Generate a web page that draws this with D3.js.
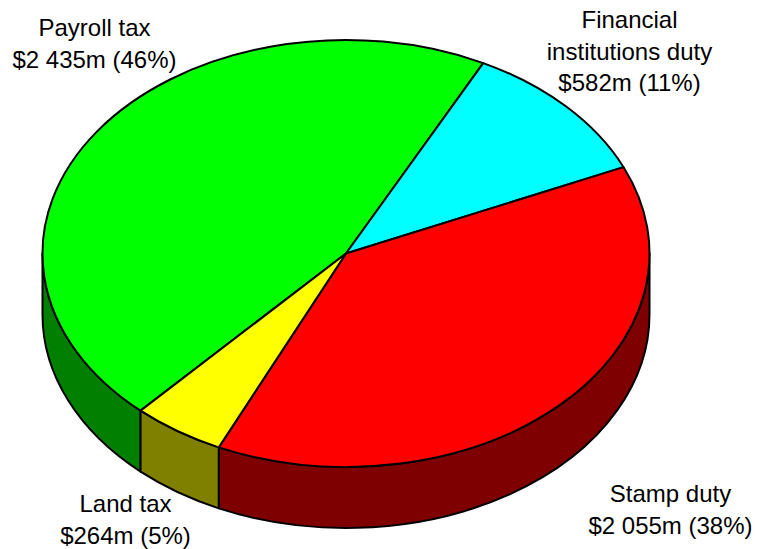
<!DOCTYPE html>
<html>
<head>
<meta charset="utf-8">
<script src="https://cdn.jsdelivr.net/npm/d3@7/dist/d3.min.js"></script>
<style>
  html, body { margin: 0; padding: 0; background: #fff; }
  svg { display: block; }
  text { font-family: "Liberation Sans", Arial, sans-serif; font-size: 24px; fill: #000; }
</style>
</head>
<body>
<svg id="chart" width="757" height="549"></svg>
<script>
// Tax revenue by source ($m)
const categories = ["Payroll tax", "Financial institutions duty", "Stamp duty", "Land tax"];
const values = [2435, 582, 2055, 264];
const valueLabels = ["$2 435m", "$582m", "$2 055m", "$264m"];
const percentLabels = ["46%", "11%", "38%", "5%"];
const labelLines = [["Payroll tax"], ["Financial", "institutions duty"], ["Stamp duty"], ["Land tax"]];

const topColors = ["#00ff00", "#00ffff", "#ff0000", "#ffff00"];
const sideColors = ["#007f00", "#007f7f", "#7f0000", "#7f7f00"];

// Ellipse geometry of the tilted pie
const cx = 346, cy = 253.5, rx = 303.5, ry = 213.5, depth = 61;
const startAngle = 222.6 * Math.PI / 180;

const svg = d3.select("#chart");

const pie = d3.pie().sort(null).value(d => d)
  .startAngle(startAngle).endAngle(startAngle + 2 * Math.PI);
const arcs = pie(values);

// angle measured clockwise from 12 o'clock
const px = a => cx + rx * Math.sin(a);
const py = (a, dy = 0) => cy - ry * Math.cos(a) + dy;

function topPath(a0, a1) {
  const large = (a1 - a0) > Math.PI ? 1 : 0;
  return `M${cx},${cy}L${px(a0)},${py(a0)}A${rx},${ry} 0 ${large} 1 ${px(a1)},${py(a1)}Z`;
}

function sidePath(a0, a1) {
  const large = (a1 - a0) > Math.PI ? 1 : 0;
  return `M${px(a0)},${py(a0)}A${rx},${ry} 0 ${large} 1 ${px(a1)},${py(a1)}` +
         `L${px(a1)},${py(a1, depth)}A${rx},${ry} 0 ${large} 0 ${px(a0)},${py(a0, depth)}Z`;
}

// visible part of the wall: front half, between 90° and 270°
const TAU = 2 * Math.PI;
const sides = [];
arcs.forEach((d, i) => {
  for (let k = -1; k <= 1; k++) {
    const a0 = Math.max(d.startAngle + k * TAU, Math.PI / 2);
    const a1 = Math.min(d.endAngle + k * TAU, 3 * Math.PI / 2);
    if (a1 > a0 + 1e-6) sides.push({ i, a0, a1 });
  }
});

svg.append("g").selectAll("path").data(sides).join("path")
  .attr("d", s => sidePath(s.a0, s.a1))
  .attr("fill", s => sideColors[s.i])
  .attr("stroke", "#000").attr("stroke-width", 2).attr("stroke-linejoin", "round");

svg.append("g").selectAll("path").data(arcs).join("path")
  .attr("d", d => topPath(d.startAngle, d.endAngle))
  .attr("fill", (d, i) => topColors[i])
  .attr("stroke", "#000").attr("stroke-width", 2).attr("stroke-linejoin", "round");

// label anchors (centre of first text line baseline)
const labelPos = [[94.5, 36], [629.5, 28], [670.5, 502], [125.5, 512]];
const lineH = 31.5;

const lbl = svg.append("g").selectAll("text").data(categories).join("text")
  .attr("text-anchor", "middle")
  .attr("x", (d, i) => labelPos[i][0])
  .attr("y", (d, i) => labelPos[i][1]);

lbl.each(function(d, i) {
  const t = d3.select(this);
  const lines = labelLines[i].concat([`${valueLabels[i]} (${percentLabels[i]})`]);
  lines.forEach((ln, j) => {
    t.append("tspan").attr("x", labelPos[i][0]).attr("dy", j === 0 ? 0 : lineH).text(ln);
  });
});
</script>
</body>
</html>
